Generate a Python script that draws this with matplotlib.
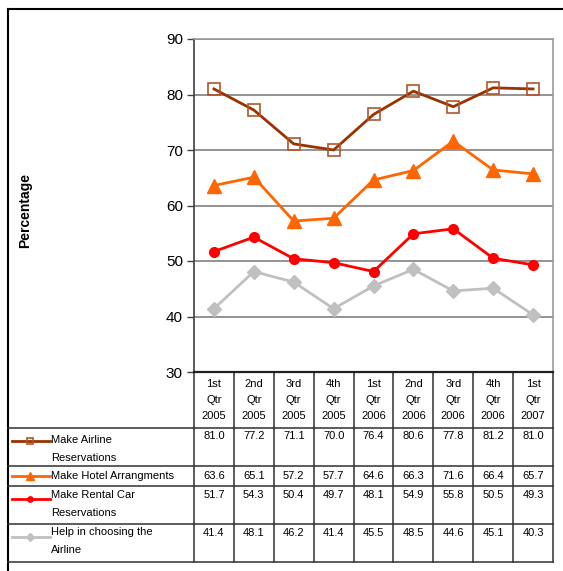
import matplotlib
matplotlib.use("Agg")
import matplotlib.pyplot as plt
from matplotlib.lines import Line2D

plt.rcParams['font.family'] = ['Liberation Sans', 'DejaVu Sans']

quarters = ["1st\nQtr\n2005", "2nd\nQtr\n2005", "3rd\nQtr\n2005", "4th\nQtr\n2005",
            "1st\nQtr\n2006", "2nd\nQtr\n2006", "3rd\nQtr\n2006", "4th\nQtr\n2006",
            "1st\nQtr\n2007"]
series_names = ["Make Airline\nReservations", "Make Hotel Arrangments",
                "Make Rental Car\nReservations", "Help in choosing the\nAirline"]
airline = [81.0, 77.2, 71.1, 70.0, 76.4, 80.6, 77.8, 81.2, 81.0]
hotel = [63.6, 65.1, 57.2, 57.7, 64.6, 66.3, 71.6, 66.4, 65.7]
rental = [51.7, 54.3, 50.4, 49.7, 48.1, 54.9, 55.8, 50.5, 49.3]
helpchoose = [41.4, 48.1, 46.2, 41.4, 45.5, 48.5, 44.6, 45.1, 40.3]
y_ticks = [30, 40, 50, 60, 70, 80, 90]

W, H = 563, 571
fig = plt.figure(figsize=(W / 100, H / 100), dpi=100)

# pixel-space overlay for the frame and the data table
ov = fig.add_axes([0, 0, 1, 1], zorder=0)
ov.set_xlim(0, W)
ov.set_ylim(H, 0)
ov.axis("off")

# plot area
L, R, T, B = 194, 553, 39, 372
ax = fig.add_axes([L / W, 1 - B / H, (R - L) / W, (B - T) / H], zorder=2)
ax.patch.set_alpha(0)
ax.set_xlim(-0.5, len(quarters) - 0.5)
ax.set_ylim(30, 90)
ax.set_yticks(y_ticks)
ax.set_yticklabels([str(v) for v in y_ticks], fontsize=11)
ax.set_xticks([])
ax.tick_params(axis="y", length=5, width=1, color="#404040", pad=3)
ax.grid(axis="y", color="#808080", linewidth=1.2)
ax.set_axisbelow(True)
for side in ("top", "right"):
    ax.spines[side].set_color("#999999")
    ax.spines[side].set_linewidth(1.2)
ax.spines["left"].set_color("#404040")
ax.spines["left"].set_linewidth(1.2)
ax.spines["bottom"].set_color("#202020")
ax.spines["bottom"].set_linewidth(1.6)

styles = [
    dict(color="#993300", marker="s", markersize=9, markerfacecolor="none",
         markeredgecolor="#B0562A", markeredgewidth=1.2),
    dict(color="#FF6600", marker="^", markersize=10, markerfacecolor="#FF6600",
         markeredgecolor="#FF6600"),
    dict(color="#FF0000", marker="o", markersize=7, markerfacecolor="#FF0000",
         markeredgecolor="#FF0000"),
    dict(color="#C0C0C0", marker="D", markersize=7, markerfacecolor="#C0C0C0",
         markeredgecolor="#C0C0C0"),
]
all_series = [airline, hotel, rental, helpchoose]
xs = list(range(len(quarters)))
for vals, st in zip(all_series, styles):
    ax.plot(xs, vals, linewidth=2, clip_on=False, **st)

fig.text(25 / W, 1 - 210 / H, "Percentage", rotation=90, fontsize=10,
         fontweight="bold", ha="center", va="center")

# outer frame
ov.plot([8, 8], [9, H], color="black", lw=1.5)
ov.plot([8, W], [9, 9], color="black", lw=1.5)

# data table
col_w = (R - L) / len(quarters)
col_edges = [L + i * col_w for i in range(len(quarters) + 1)]
row_edges = [B, 428, 466, 486, 524, 562]
lc = "#303030"
for x in col_edges:
    ov.plot([x, x], [B, row_edges[-1]], color=lc, lw=1.1)
for y in row_edges[1:]:
    ov.plot([8, R], [y, y], color=lc, lw=1.1)

fs = 8
for i, q in enumerate(quarters):
    cx = col_edges[i] + col_w / 2
    for k, part in enumerate(q.split("\n")):
        ov.text(cx, 384 + k * 16, part, ha="center", va="center", fontsize=fs)

key_y = [441, 476, 499, 537]
text_y = [[440, 458], [476], [495, 513], [532, 550]]
val_y = [436, 476, 495, 533]
for r, (vals, st, name) in enumerate(zip(all_series, styles, series_names)):
    ov.add_line(Line2D([12, 50], [key_y[r], key_y[r]], color=st["color"], lw=2))
    kst = {k: v for k, v in st.items() if k.startswith("marker")}
    kst["markersize"] = st["markersize"] * 0.55
    ov.plot([30], [key_y[r]], linestyle="none", **kst)
    for k, part in enumerate(name.split("\n")):
        ov.text(51, text_y[r][k], part, ha="left", va="center", fontsize=fs)
    for i, v in enumerate(vals):
        cx = col_edges[i] + col_w / 2
        ov.text(cx, val_y[r], f"{v:.1f}", ha="center", va="center", fontsize=fs)

fig.savefig("out.png", dpi=100)
